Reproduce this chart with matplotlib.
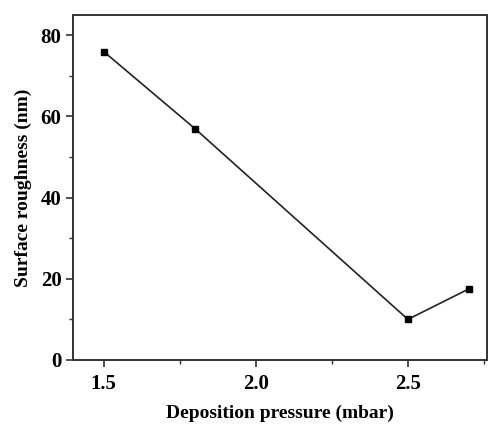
import matplotlib
matplotlib.use('Agg')
import matplotlib.pyplot as plt
from matplotlib.ticker import MultipleLocator

# data
pressure = [1.5, 1.8, 2.5, 2.7]
roughness = [76, 57, 10, 17.5]

plt.rcParams['font.family'] = 'Liberation Serif'
plt.rcParams['font.weight'] = 'bold'

fig = plt.figure(figsize=(4.88, 4.28), dpi=100)
ax = fig.add_axes([0.150, 0.159, 0.848, 0.806])

ax.plot(pressure, roughness, '-', color='#222222', lw=1.2,
        marker='s', ms=5, mfc='black', mec='black')

ax.set_xlim(1.40, 2.76)
ax.set_ylim(0, 85)
ax.xaxis.set_major_locator(MultipleLocator(0.5))
ax.xaxis.set_minor_locator(MultipleLocator(0.25))
ax.yaxis.set_major_locator(MultipleLocator(20))
ax.yaxis.set_minor_locator(MultipleLocator(10))
ax.xaxis.set_major_formatter(plt.FormatStrFormatter('%.1f'))

ax.tick_params(which='both', direction='out', top=False, right=False,
               labelsize=15, color='#333333')
ax.tick_params(which='major', length=5, width=1.2)
ax.tick_params(axis='x', which='major', pad=5)
ax.tick_params(which='minor', length=3, width=1)
for s in ax.spines.values():
    s.set_linewidth(1.4)
    s.set_color('#333333')

ax.set_xlabel('Deposition pressure (mbar)', fontsize=14, fontweight='bold', labelpad=8)
ax.set_ylabel('Surface roughness (nm)', fontsize=14, fontweight='bold', labelpad=6)

fig.savefig('out.png', dpi=100)
